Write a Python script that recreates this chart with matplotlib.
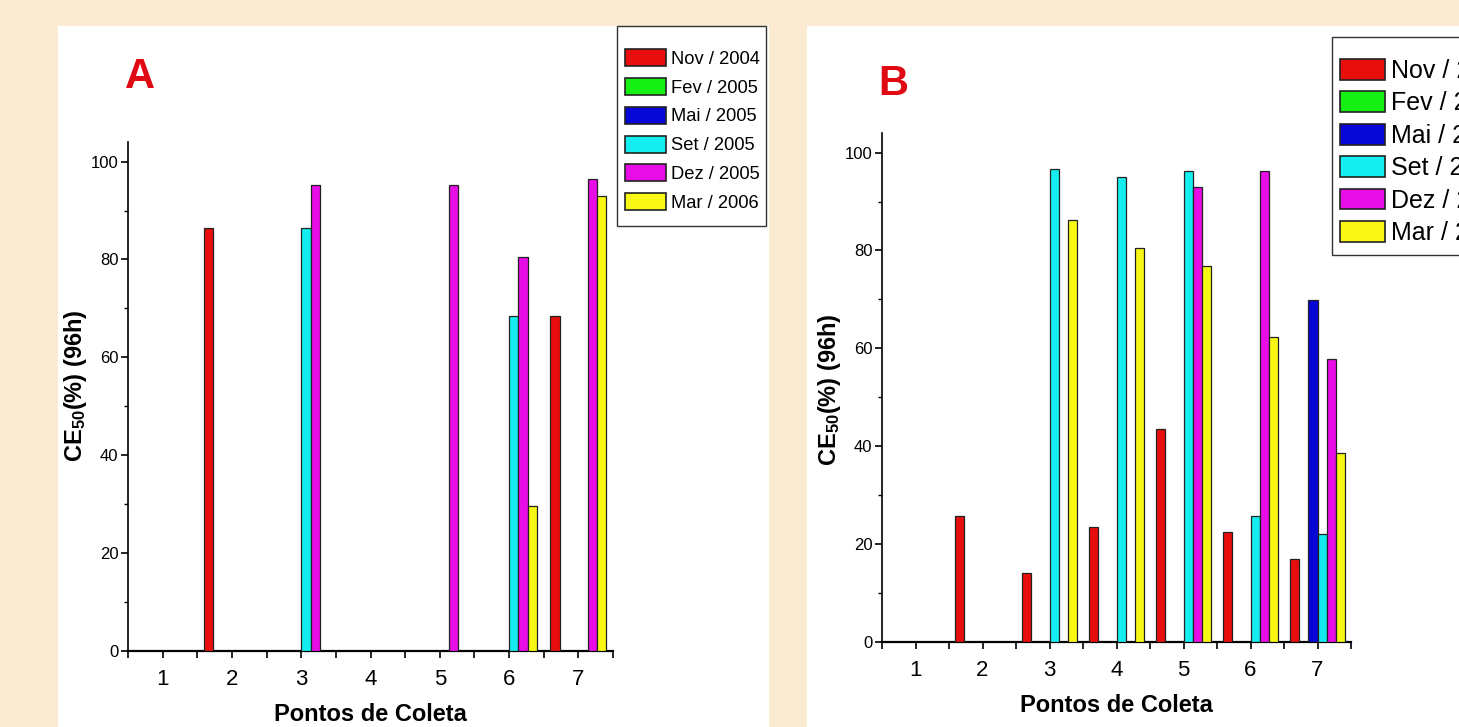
import numpy as np
import matplotlib.pyplot as plt
from matplotlib.patches import Rectangle

plt.rcParams['font.family'] = ['Liberation Sans Narrow', 'Liberation Sans', 'DejaVu Sans']
plt.rcParams['mathtext.fontset'] = 'custom'
plt.rcParams['mathtext.rm'] = 'Liberation Sans:bold'
plt.rcParams['mathtext.it'] = 'Liberation Sans:bold'
plt.rcParams['mathtext.bf'] = 'Liberation Sans:bold'

pontos = [1, 2, 3, 4, 5, 6, 7]
campanhas = ['Nov / 2004', 'Fev / 2005', 'Mai / 2005', 'Set / 2005', 'Dez / 2005', 'Mar / 2006']
cores = ['#E80E0E', '#14F014', '#0606D6', '#14EEF0', '#E80CE6', '#F8F814']

# painel A
nov_a = [0, 86.5, 0, 0, 0, 0, 68.5]
fev_a = [0, 0, 0, 0, 0, 0, 0]
mai_a = [0, 0, 0, 0, 0, 0, 0]
set_a = [0, 0, 86.5, 0, 0, 68.5, 0]
dez_a = [0, 0, 95.3, 0, 95.3, 80.5, 96.4]
mar_a = [0, 0, 0, 0, 0, 29.6, 93.0]

# painel B
nov_b = [0, 25.8, 14.1, 23.5, 43.6, 22.5, 17.0]
fev_b = [0, 0, 0, 0, 0, 0, 0]
mai_b = [0, 0, 0, 0, 0, 0, 69.9]
set_b = [0, 0, 96.6, 95.1, 96.2, 25.8, 22.1]
dez_b = [0, 0, 0, 0, 92.9, 96.3, 57.8]
mar_b = [0, 0, 86.3, 80.5, 76.9, 62.4, 38.7]

W, H = 1459, 727
fig = plt.figure(figsize=(W / 100, H / 100), dpi=100, facecolor='#FAEBD2')

# white panels behind each graph
fig.patches.append(Rectangle((58 / W, 0), 711 / W, 1 - 26 / H, transform=fig.transFigure,
                             facecolor='white', edgecolor='none', zorder=-2))
fig.patches.append(Rectangle((807 / W, 0), 652 / W, 1 - 26 / H, transform=fig.transFigure,
                             facecolor='white', edgecolor='none', zorder=-2))

w = 0.135
x = np.array(pontos)


def painel(ax, series, leg_anchor, leg_box, fs_leg, hl, hh, ls, letra, letra_xy, ylab_xy):
    handles = []
    for j, (vals, cor) in enumerate(zip(series, cores)):
        b = ax.bar(x + (j - 2.5) * w, vals, width=w, color=cor,
                   edgecolor='#222222', linewidth=0.9, zorder=3)
        handles.append(b)
    ax.set_xlim(0.5, 7.5)
    ax.set_ylim(0, 104)
    ax.set_facecolor('none')
    for s in ['top', 'right']:
        ax.spines[s].set_visible(False)
    ax.spines['left'].set_linewidth(1.2)
    ax.spines['bottom'].set_linewidth(1.6)
    ax.set_xticks(pontos)
    ax.set_xticks(np.arange(0.5, 8, 1), minor=True)
    ax.set_yticks([0, 20, 40, 60, 80, 100])
    ax.set_yticks([10, 30, 50, 70, 90], minor=True)
    ax.tick_params(axis='x', which='both', direction='out', length=5, width=1.2, labelsize=16, pad=8)
    ax.tick_params(axis='y', which='major', direction='out', length=5, width=1.2, labelsize=12, pad=2)
    ax.tick_params(axis='y', which='minor', direction='out', length=3, width=1.0)
    ax.set_xlabel('Pontos de Coleta', fontsize=17, fontweight='bold', labelpad=9)
    ax.set_ylabel(r'CE$_{\mathregular{50}}$(%) (96h)', fontsize=17, fontweight='bold',
                  family='Liberation Sans', va='center')
    ax.yaxis.set_label_coords(*ylab_xy)
    fig.text(letra_xy[0] / W, 1 - letra_xy[1] / H, letra, fontsize=30, fontweight='bold',
             family='Liberation Sans', color='#E00A14', ha='center', va='center')
    # legend frame drawn as in the original (larger top/bottom padding)
    x0, y0, x1, y1 = leg_box
    fig.patches.append(Rectangle((x0 / W, 1 - y1 / H), (x1 - x0) / W, (y1 - y0) / H,
                                 transform=fig.transFigure, facecolor='white',
                                 edgecolor='#333333', linewidth=1.0, zorder=-1))
    leg = ax.legend(handles, campanhas, loc='upper left',
                    bbox_to_anchor=(leg_anchor[0] / W, 1 - leg_anchor[1] / H),
                    bbox_transform=fig.transFigure, frameon=False, fontsize=fs_leg,
                    handlelength=hl, handleheight=hh, labelspacing=ls, handletextpad=0.25,
                    borderpad=0, borderaxespad=0)
    for p in leg.get_patches():
        p.set_edgecolor('#222222')
        p.set_linewidth(1.2)


ax_a = fig.add_axes([128 / W, 1 - 651 / H, 485 / W, 509 / H])
painel(ax_a, [nov_a, fev_a, mai_a, set_a, dez_a, mar_a],
       (625, 49), (617, 26, 766, 226), 13.2, 2.25, 1.05, 0.55,
       'A', (140, 77), (-0.109, 0.522))

ax_b = fig.add_axes([882 / W, 1 - 642 / H, 469 / W, 509 / H])
painel(ax_b, [nov_b, fev_b, mai_b, set_b, dez_b, mar_b],
       (1340, 59), (1332, 37, 1520, 255), 18, 1.8, 0.9, 0.335,
       'B', (893, 84), (-0.112, 0.495))

fig.savefig('out.png', dpi=100, facecolor=fig.get_facecolor())
